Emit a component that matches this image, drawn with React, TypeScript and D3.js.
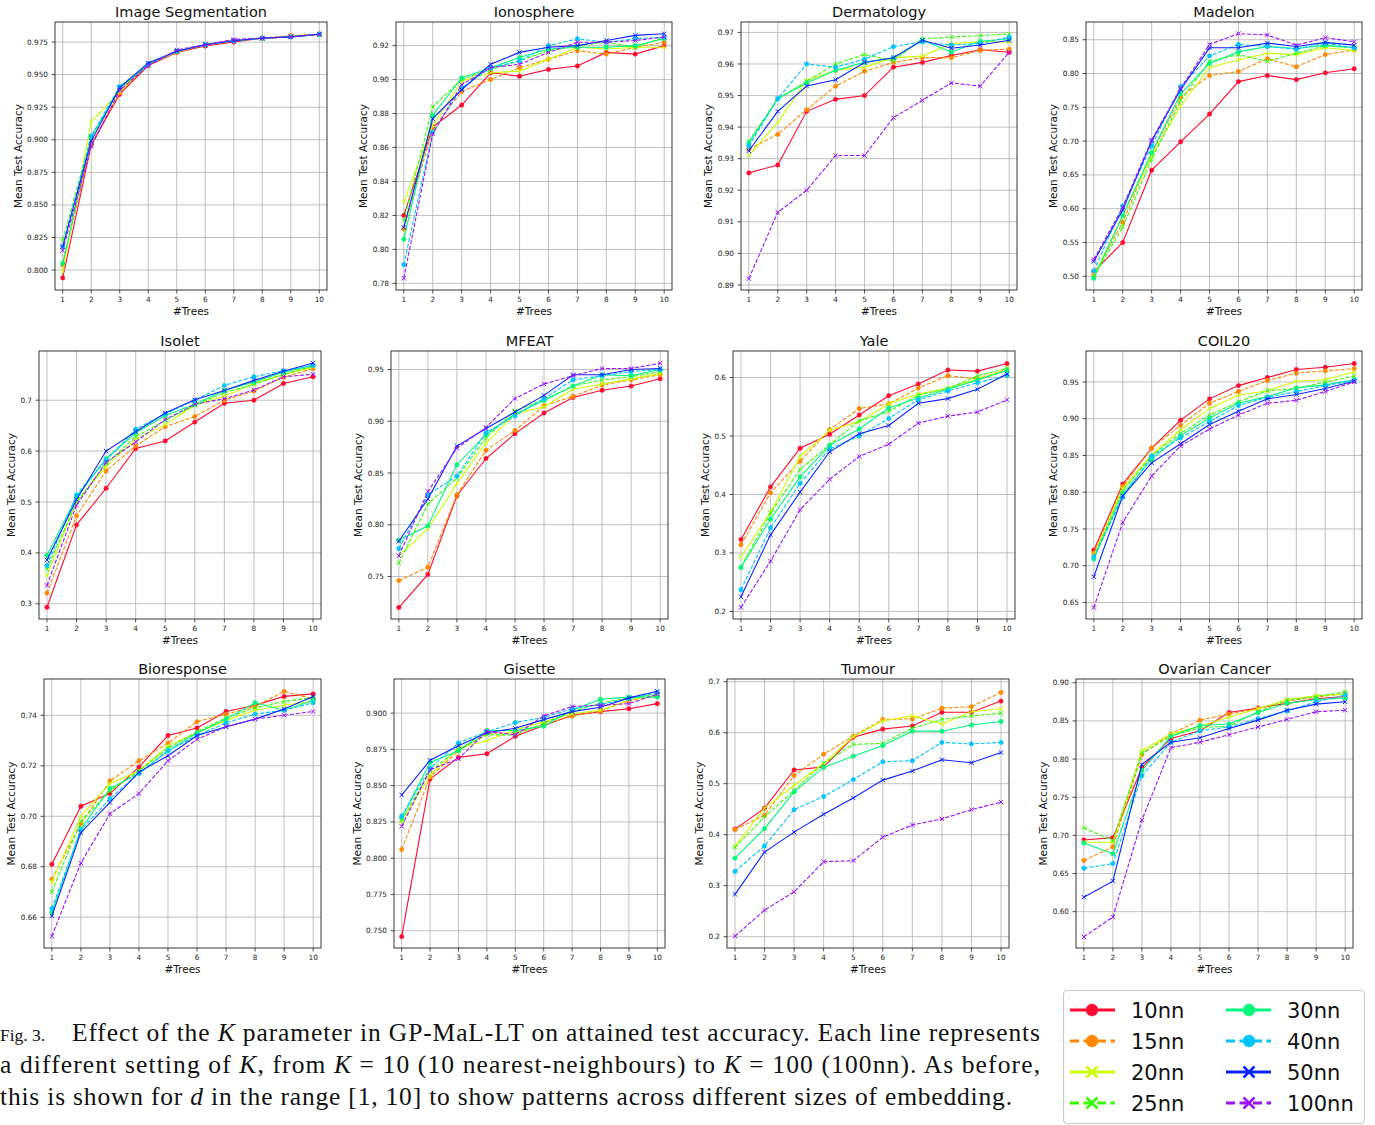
import React from 'react';
import * as d3 from 'd3';

const SERIES = ['10nn', '15nn', '20nn', '25nn', '30nn', '40nn', '50nn', '100nn'];
const COLORS = ['#ff0a2e', '#ff8800', '#ccff00', '#33ff00', '#00f77c', '#00c4ff', '#0a24ff', '#9b10ff'];
const DASHED = [false, true, false, true, false, true, false, true];
const MARKERS = ['o', 'o', 'x', 'x', 'o', 'o', 'x', 'x'];
const TREES = [1, 2, 3, 4, 5, 6, 7, 8, 9, 10];

// rows: 10nn, 15nn, 20nn, 25nn, 30nn, 40nn, 50nn, 100nn
const imageSegmentation = [
  [0.794, 0.896, 0.935, 0.957, 0.967, 0.972, 0.975, 0.978, 0.979, 0.981],
  [0.804, 0.897, 0.936, 0.958, 0.967, 0.973, 0.976, 0.978, 0.980, 0.981],
  [0.799, 0.914, 0.937, 0.959, 0.968, 0.973, 0.976, 0.978, 0.979, 0.981],
  [0.823, 0.902, 0.939, 0.958, 0.968, 0.973, 0.976, 0.978, 0.979, 0.981],
  [0.805, 0.902, 0.940, 0.958, 0.968, 0.973, 0.976, 0.978, 0.979, 0.981],
  [0.818, 0.903, 0.941, 0.958, 0.968, 0.973, 0.976, 0.978, 0.979, 0.981],
  [0.818, 0.899, 0.940, 0.959, 0.968, 0.973, 0.976, 0.978, 0.979, 0.981],
  [0.815, 0.895, 0.938, 0.957, 0.969, 0.973, 0.977, 0.978, 0.979, 0.981],
];
const ionosphere = [
  [0.820, 0.872, 0.885, 0.904, 0.902, 0.906, 0.908, 0.916, 0.915, 0.920],
  [0.812, 0.871, 0.893, 0.900, 0.907, 0.912, 0.917, 0.915, 0.919, 0.922],
  [0.828, 0.873, 0.899, 0.904, 0.905, 0.912, 0.919, 0.918, 0.919, 0.919],
  [0.817, 0.884, 0.900, 0.906, 0.911, 0.917, 0.920, 0.922, 0.919, 0.925],
  [0.806, 0.879, 0.901, 0.907, 0.913, 0.918, 0.919, 0.919, 0.920, 0.924],
  [0.791, 0.869, 0.895, 0.907, 0.911, 0.920, 0.924, 0.922, 0.924, 0.925],
  [0.813, 0.877, 0.894, 0.909, 0.916, 0.919, 0.920, 0.923, 0.926, 0.927],
  [0.783, 0.868, 0.897, 0.907, 0.909, 0.916, 0.922, 0.922, 0.923, 0.925],
];
const dermatology = [
  [0.9255, 0.928, 0.945, 0.9488, 0.950, 0.959, 0.9605, 0.9627, 0.9645, 0.9637],
  [0.933, 0.9377, 0.9455, 0.953, 0.9577, 0.9605, 0.962, 0.962, 0.9643, 0.9647],
  [0.931, 0.9415, 0.9548, 0.958, 0.959, 0.962, 0.9625, 0.9665, 0.967, 0.967],
  [0.9355, 0.949, 0.9545, 0.960, 0.963, 0.961, 0.968, 0.9685, 0.969, 0.9695],
  [0.935, 0.949, 0.954, 0.958, 0.9605, 0.962, 0.9675, 0.9638, 0.9672, 0.968],
  [0.934, 0.949, 0.960, 0.959, 0.9615, 0.9655, 0.967, 0.966, 0.9665, 0.9685],
  [0.9325, 0.945, 0.953, 0.955, 0.9605, 0.962, 0.9675, 0.965, 0.966, 0.9675],
  [0.892, 0.913, 0.920, 0.931, 0.931, 0.943, 0.9485, 0.954, 0.953, 0.9637],
];
const madelon = [
  [0.507, 0.550, 0.657, 0.699, 0.740, 0.788, 0.797, 0.791, 0.801, 0.807],
  [0.502, 0.580, 0.682, 0.765, 0.797, 0.803, 0.822, 0.810, 0.828, 0.835],
  [0.500, 0.590, 0.678, 0.752, 0.809, 0.820, 0.830, 0.828, 0.838, 0.834],
  [0.499, 0.573, 0.673, 0.760, 0.818, 0.828, 0.818, 0.830, 0.841, 0.838],
  [0.497, 0.590, 0.683, 0.770, 0.815, 0.832, 0.840, 0.837, 0.842, 0.838],
  [0.508, 0.604, 0.693, 0.781, 0.826, 0.843, 0.840, 0.836, 0.845, 0.838],
  [0.522, 0.598, 0.700, 0.776, 0.838, 0.838, 0.845, 0.840, 0.846, 0.842],
  [0.525, 0.602, 0.702, 0.778, 0.843, 0.859, 0.857, 0.842, 0.853, 0.847],
];
const isolet = [
  [0.293, 0.455, 0.527, 0.605, 0.620, 0.657, 0.694, 0.700, 0.733, 0.746],
  [0.321, 0.473, 0.561, 0.610, 0.648, 0.668, 0.700, 0.718, 0.745, 0.762],
  [0.355, 0.500, 0.570, 0.623, 0.652, 0.690, 0.708, 0.733, 0.750, 0.765],
  [0.368, 0.500, 0.575, 0.628, 0.660, 0.690, 0.715, 0.731, 0.751, 0.767],
  [0.395, 0.510, 0.585, 0.636, 0.670, 0.692, 0.719, 0.736, 0.755, 0.769],
  [0.375, 0.514, 0.582, 0.643, 0.673, 0.700, 0.729, 0.746, 0.758, 0.768],
  [0.386, 0.505, 0.600, 0.638, 0.675, 0.701, 0.719, 0.739, 0.757, 0.773],
  [0.336, 0.494, 0.578, 0.618, 0.662, 0.692, 0.703, 0.720, 0.746, 0.751],
];
const mfeat = [
  [0.720, 0.752, 0.828, 0.864, 0.888, 0.908, 0.923, 0.930, 0.934, 0.941],
  [0.746, 0.759, 0.829, 0.872, 0.891, 0.915, 0.924, 0.935, 0.940, 0.945],
  [0.770, 0.796, 0.840, 0.879, 0.907, 0.914, 0.931, 0.936, 0.941, 0.946],
  [0.763, 0.820, 0.845, 0.884, 0.910, 0.921, 0.934, 0.940, 0.943, 0.948],
  [0.785, 0.799, 0.858, 0.887, 0.907, 0.920, 0.934, 0.945, 0.944, 0.950],
  [0.777, 0.829, 0.847, 0.889, 0.905, 0.922, 0.940, 0.944, 0.948, 0.950],
  [0.784, 0.825, 0.876, 0.893, 0.909, 0.925, 0.945, 0.945, 0.950, 0.951],
  [0.770, 0.832, 0.874, 0.894, 0.922, 0.936, 0.944, 0.951, 0.951, 0.956],
];
const yale = [
  [0.323, 0.413, 0.479, 0.503, 0.536, 0.569, 0.589, 0.613, 0.611, 0.624],
  [0.314, 0.403, 0.457, 0.511, 0.547, 0.555, 0.582, 0.603, 0.598, 0.614],
  [0.293, 0.370, 0.465, 0.510, 0.525, 0.555, 0.572, 0.582, 0.598, 0.613],
  [0.276, 0.368, 0.443, 0.485, 0.526, 0.542, 0.570, 0.581, 0.603, 0.616],
  [0.275, 0.358, 0.430, 0.484, 0.512, 0.548, 0.565, 0.580, 0.596, 0.612],
  [0.237, 0.343, 0.419, 0.478, 0.500, 0.530, 0.562, 0.577, 0.591, 0.604],
  [0.225, 0.331, 0.404, 0.473, 0.504, 0.518, 0.556, 0.564, 0.580, 0.606],
  [0.207, 0.286, 0.374, 0.426, 0.465, 0.486, 0.522, 0.534, 0.541, 0.562],
];
const coil20 = [
  [0.721, 0.811, 0.860, 0.898, 0.927, 0.945, 0.956, 0.967, 0.970, 0.975],
  [0.717, 0.808, 0.860, 0.891, 0.921, 0.937, 0.952, 0.962, 0.965, 0.968],
  [0.714, 0.805, 0.851, 0.885, 0.914, 0.932, 0.938, 0.951, 0.953, 0.964],
  [0.712, 0.802, 0.850, 0.880, 0.905, 0.923, 0.938, 0.941, 0.950, 0.958],
  [0.709, 0.798, 0.845, 0.877, 0.901, 0.921, 0.930, 0.942, 0.946, 0.953],
  [0.712, 0.793, 0.849, 0.874, 0.896, 0.918, 0.929, 0.937, 0.945, 0.952],
  [0.685, 0.795, 0.840, 0.866, 0.892, 0.910, 0.927, 0.933, 0.941, 0.951],
  [0.643, 0.759, 0.822, 0.863, 0.886, 0.905, 0.921, 0.925, 0.937, 0.950],
];
const bioresponse = [
  [0.681, 0.704, 0.709, 0.7195, 0.732, 0.735, 0.7415, 0.744, 0.7475, 0.7485],
  [0.675, 0.697, 0.714, 0.722, 0.729, 0.7375, 0.7405, 0.7435, 0.7495, 0.7465],
  [0.674, 0.700, 0.713, 0.718, 0.728, 0.733, 0.738, 0.742, 0.744, 0.7455],
  [0.670, 0.698, 0.710, 0.718, 0.727, 0.7335, 0.739, 0.743, 0.7455, 0.747],
  [0.662, 0.695, 0.711, 0.717, 0.726, 0.733, 0.7385, 0.745, 0.742, 0.746],
  [0.6635, 0.6945, 0.707, 0.717, 0.726, 0.732, 0.737, 0.7405, 0.742, 0.745],
  [0.6605, 0.6935, 0.7055, 0.7175, 0.724, 0.732, 0.7355, 0.7385, 0.7425, 0.7475],
  [0.6525, 0.6815, 0.701, 0.709, 0.722, 0.7305, 0.7355, 0.7385, 0.740, 0.7415],
];
const gisette = [
  [0.746, 0.8545, 0.8695, 0.872, 0.884, 0.8915, 0.8985, 0.901, 0.903, 0.9065],
  [0.806, 0.856, 0.874, 0.886, 0.8865, 0.892, 0.898, 0.9015, 0.9085, 0.912],
  [0.825, 0.857, 0.876, 0.881, 0.8885, 0.894, 0.8995, 0.902, 0.909, 0.912],
  [0.826, 0.860, 0.875, 0.885, 0.885, 0.893, 0.901, 0.907, 0.9105, 0.913],
  [0.828, 0.866, 0.874, 0.888, 0.888, 0.891, 0.902, 0.9095, 0.911, 0.911],
  [0.829, 0.862, 0.8795, 0.887, 0.8935, 0.897, 0.903, 0.906, 0.910, 0.914],
  [0.8435, 0.8675, 0.8775, 0.8865, 0.8895, 0.8955, 0.901, 0.904, 0.9105, 0.915],
  [0.822, 0.861, 0.8685, 0.8875, 0.885, 0.898, 0.9045, 0.9055, 0.9065, 0.913],
];
const tumour = [
  [0.411, 0.452, 0.527, 0.533, 0.591, 0.607, 0.613, 0.640, 0.640, 0.662],
  [0.410, 0.438, 0.516, 0.558, 0.593, 0.626, 0.627, 0.648, 0.651, 0.679],
  [0.377, 0.452, 0.497, 0.540, 0.592, 0.623, 0.633, 0.617, 0.641, 0.647],
  [0.375, 0.435, 0.487, 0.540, 0.577, 0.579, 0.609, 0.626, 0.633, 0.638],
  [0.354, 0.412, 0.484, 0.532, 0.554, 0.575, 0.603, 0.603, 0.615, 0.622],
  [0.328, 0.378, 0.449, 0.475, 0.508, 0.543, 0.545, 0.581, 0.578, 0.581],
  [0.283, 0.366, 0.405, 0.440, 0.472, 0.507, 0.525, 0.547, 0.541, 0.561],
  [0.201, 0.252, 0.288, 0.347, 0.349, 0.395, 0.419, 0.431, 0.449, 0.464],
];
const ovarianCancer = [
  [0.694, 0.697, 0.789, 0.827, 0.837, 0.861, 0.867, 0.873, 0.879, 0.882],
  [0.667, 0.685, 0.806, 0.833, 0.851, 0.859, 0.866, 0.876, 0.881, 0.886],
  [0.691, 0.691, 0.811, 0.833, 0.843, 0.855, 0.866, 0.878, 0.883, 0.885],
  [0.710, 0.693, 0.808, 0.830, 0.841, 0.843, 0.862, 0.877, 0.882, 0.888],
  [0.690, 0.676, 0.785, 0.830, 0.844, 0.846, 0.861, 0.873, 0.878, 0.880],
  [0.657, 0.663, 0.778, 0.822, 0.837, 0.842, 0.853, 0.863, 0.875, 0.884],
  [0.619, 0.640, 0.793, 0.822, 0.828, 0.840, 0.851, 0.864, 0.872, 0.875],
  [0.567, 0.593, 0.720, 0.815, 0.822, 0.832, 0.842, 0.852, 0.862, 0.864],
];

const imageSegTicks = [0.8, 0.825, 0.85, 0.875, 0.9, 0.925, 0.95, 0.975];
const ionosphereTicks = [0.78, 0.8, 0.82, 0.84, 0.86, 0.88, 0.9, 0.92];
const dermatologyTicks = [0.89, 0.9, 0.91, 0.92, 0.93, 0.94, 0.95, 0.96, 0.97];
const madelonTicks = [0.5, 0.55, 0.6, 0.65, 0.7, 0.75, 0.8, 0.85];
const isoletTicks = [0.3, 0.4, 0.5, 0.6, 0.7];
const mfeatTicks = [0.75, 0.8, 0.85, 0.9, 0.95];
const yaleTicks = [0.2, 0.3, 0.4, 0.5, 0.6];
const coil20Ticks = [0.65, 0.7, 0.75, 0.8, 0.85, 0.9, 0.95];
const bioresponseTicks = [0.66, 0.68, 0.7, 0.72, 0.74];
const gisetteTicks = [0.75, 0.775, 0.8, 0.825, 0.85, 0.875, 0.9];
const tumourTicks = [0.2, 0.3, 0.4, 0.5, 0.6, 0.7];
const ovarianTicks = [0.6, 0.65, 0.7, 0.75, 0.8, 0.85, 0.9];

const PANELS = [
  { title: 'Image Segmentation', data: imageSegmentation, ticks: imageSegTicks, dec: 3, yDomain: [0.7847, 0.9904], box: [55, 22, 327, 290] },
  { title: 'Ionosphere', data: ionosphere, ticks: ionosphereTicks, dec: 2, yDomain: [0.7761, 0.9339], box: [396, 22, 672, 290] },
  { title: 'Dermatology', data: dermatology, ticks: dermatologyTicks, dec: 2, yDomain: [0.8884, 0.9733], box: [741, 22, 1017, 290] },
  { title: 'Madelon', data: madelon, ticks: madelonTicks, dec: 2, yDomain: [0.4797, 0.8762], box: [1086, 22, 1362, 290] },
  { title: 'Isolet', data: isolet, ticks: isoletTicks, dec: 1, yDomain: [0.27, 0.7967], box: [39, 351, 321, 619] },
  { title: 'MFEAT', data: mfeat, ticks: mfeatTicks, dec: 2, yDomain: [0.7089, 0.9679], box: [391, 351, 668, 619] },
  { title: 'Yale', data: yale, ticks: yaleTicks, dec: 1, yDomain: [0.187, 0.6454], box: [733, 351, 1015, 619] },
  { title: 'COIL20', data: coil20, ticks: coil20Ticks, dec: 2, yDomain: [0.6275, 0.9921], box: [1086, 351, 1362, 619] },
  { title: 'Bioresponse', data: bioresponse, ticks: bioresponseTicks, dec: 2, yDomain: [0.6478, 0.7544], box: [44, 679, 321, 948] },
  { title: 'Gisette', data: gisette, ticks: gisetteTicks, dec: 3, yDomain: [0.7381, 0.9235], box: [394, 679, 665, 948] },
  { title: 'Tumour', data: tumour, ticks: tumourTicks, dec: 1, yDomain: [0.1778, 0.7053], box: [727, 679, 1009, 948] },
  { title: 'Ovarian Cancer', data: ovarianCancer, ticks: ovarianTicks, dec: 2, yDomain: [0.5524, 0.9049], box: [1076, 679, 1353, 948] },
];

const SANS = 'DejaVu Sans, sans-serif';
const SERIF = 'Liberation Serif, Times New Roman, serif';

function Marker({ kind, cx, cy, size, color, sw }: any) {
  if (kind === 'o') return <circle cx={cx} cy={cy} r={size} fill={color} stroke={color} strokeWidth={0.5} />;
  return (
    <g stroke={color} strokeWidth={sw} strokeLinecap="butt">
      <line x1={cx - size} y1={cy - size} x2={cx + size} y2={cy + size} />
      <line x1={cx - size} y1={cy + size} x2={cx + size} y2={cy - size} />
    </g>
  );
}

function Panel({ p }: any) {
  const [l, t, r, b] = p.box;
  const x = d3.scaleLinear().domain([0.73, 10.27]).range([l, r]);
  const y = d3.scaleLinear().domain(p.yDomain).range([b, t]);
  const line = d3.line<number>().x((_, i) => x(TREES[i])).y((d) => y(d));
  const fs = 7.3;
  const maxLabel = p.ticks.map((v: number) => v.toFixed(p.dec)).reduce((a: string, s: string) => (s.length > a.length ? s : a), '');
  const tickW = ((maxLabel.length - 1) * 0.636 + 0.318) * fs;
  const labelX = l - 7.5 - tickW - 8.5;
  return (
    <g>
      {TREES.map((v) => (
        <line key={'gx' + v} x1={x(v)} x2={x(v)} y1={t} y2={b} stroke="#b0b0b0" strokeWidth={0.8} />
      ))}
      {p.ticks.map((v: number) => (
        <line key={'gy' + v} x1={l} x2={r} y1={y(v)} y2={y(v)} stroke="#b0b0b0" strokeWidth={0.8} />
      ))}
      {p.data.map((vals: number[], si: number) => (
        <g key={si}>
          <path d={line(vals) as string} fill="none" stroke={COLORS[si]} strokeWidth={1.1}
            strokeDasharray={DASHED[si] ? '4,1.8' : undefined} />
          {vals.map((v, i) => (
            <Marker key={i} kind={MARKERS[si]} cx={x(TREES[i])} cy={y(v)} size={2.2} color={COLORS[si]} sw={1} />
          ))}
        </g>
      ))}
      <rect x={l} y={t} width={r - l} height={b - t} fill="none" stroke="#222" strokeWidth={0.9} />
      {TREES.map((v) => (
        <g key={'tx' + v}>
          <line x1={x(v)} x2={x(v)} y1={b} y2={b + 3.5} stroke="#222" strokeWidth={0.8} />
          <text x={x(v)} y={b + 12} fontSize={fs} fontFamily={SANS} textAnchor="middle" fill="#222">{v}</text>
        </g>
      ))}
      {p.ticks.map((v: number) => (
        <g key={'ty' + v}>
          <line x1={l - 3.5} x2={l} y1={y(v)} y2={y(v)} stroke="#222" strokeWidth={0.8} />
          <text x={l - 7} y={y(v)} dy="0.35em" fontSize={fs} fontFamily={SANS} textAnchor="end" fill="#222">{v.toFixed(p.dec)}</text>
        </g>
      ))}
      <text x={(l + r) / 2} y={t - 5} fontSize={14.5} fontFamily={SANS} textAnchor="middle" fill="#111">{p.title}</text>
      <text x={(l + r) / 2} y={b + 25} fontSize={10.5} fontFamily={SANS} textAnchor="middle" fill="#111">#Trees</text>
      <text transform={`translate(${labelX},${(t + b) / 2}) rotate(-90)`} dy="0.35em" fontSize={10.5} fontFamily={SANS} textAnchor="middle" fill="#111">Mean Test Accuracy</text>
    </g>
  );
}

function Legend() {
  const cols = [
    { lx: 1070, mx: 1092, tx: 1131 },
    { lx: 1226, mx: 1249, tx: 1287 },
  ];
  const rows = [1010, 1041, 1072, 1103];
  return (
    <g>
      <rect x={1063.5} y={990.5} width={301} height={133} rx={4} fill="white" stroke="#cccccc" strokeWidth={1.2} />
      {SERIES.map((s, i) => {
        const c = cols[Math.floor(i / 4)];
        const cy = rows[i % 4];
        return (
          <g key={s}>
            <line x1={c.lx} x2={c.lx + 45} y1={cy} y2={cy} stroke={COLORS[i]} strokeWidth={3}
              strokeDasharray={DASHED[i] ? '9,4.5' : undefined} />
            <Marker kind={MARKERS[i]} cx={c.mx} cy={cy} size={MARKERS[i] === 'o' ? 6 : 5.5} color={COLORS[i]} sw={2.5} />
            <text x={c.tx} y={cy} dy="0.36em" fontSize={21} fontFamily={SANS} fill="#111">{s}</text>
          </g>
        );
      })}
    </g>
  );
}

function Caption() {
  const fs = 25.5;
  return (
    <g fontFamily={SERIF} fill="#111">
      <text x={0} y={1041} fontSize={17.5}>Fig. 3.</text>
      <text x={72} y={1041} fontSize={fs} textLength={968} lengthAdjust="spacing">
        Effect of the <tspan fontStyle="italic">K</tspan> parameter in GP-MaL-LT on attained test accuracy. Each line represents
      </text>
      <text x={0} y={1073} fontSize={fs} textLength={1040} lengthAdjust="spacing">
        a different setting of <tspan fontStyle="italic">K</tspan>, from <tspan fontStyle="italic">K</tspan> = 10 (10 nearest-neighbours) to <tspan fontStyle="italic">K</tspan> = 100 (100nn). As before,
      </text>
      <text x={0} y={1105} fontSize={fs} textLength={1012} lengthAdjust="spacing">
        this is shown for <tspan fontStyle="italic">d</tspan> in the range [1, 10] to show patterns across different sizes of embedding.
      </text>
    </g>
  );
}

export default function App() {
  return (
    <svg width={1375} height={1125} style={{ position: 'absolute', left: 0, top: 0, background: 'white' }}>
      <rect x={0} y={0} width={1375} height={1125} fill="white" />
      {PANELS.map((p) => (
        <Panel key={p.title} p={p} />
      ))}
      <Legend />
      <Caption />
    </svg>
  );
}
